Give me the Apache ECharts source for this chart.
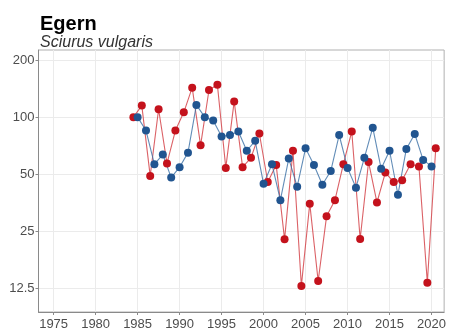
<!DOCTYPE html>
<html>
<head>
<meta charset="utf-8">
<script src="https://cdn.jsdelivr.net/npm/echarts@6/dist/echarts.min.js"></script>
<style>html,body{margin:0;padding:0;background:#fff}#c{width:449px;height:332px}</style>
</head>
<body>
<div id="c"></div>
<script>
// Blue series: years and index values
var blueYears = [1985,1986,1987,1988,1989,1990,1991,1992,1993,1994,1995,1996,1997,1998,1999,2000,2001,2002,2003,2004,2005,2006,2007,2008,2009,2010,2011,2012,2013,2014,2015,2016,2017,2018,2019,2020];
var blueValues = [100,85,56.5,63.5,48,54.5,65,116,100,96,79,80.5,84,66.5,75,44.5,56.5,36.5,60.5,43,68.5,56,44,52,80.5,54,42.5,61,88,53.5,66.5,39,68,81.5,59.5,55];
// Red series: plotted at half-year positions
var redYears = [1984.5,1985.5,1986.5,1987.5,1988.5,1989.5,1990.5,1991.5,1992.5,1993.5,1994.5,1995.5,1996.5,1997.5,1998.5,1999.5,2000.5,2001.5,2002.5,2003.5,2004.5,2005.5,2006.5,2007.5,2008.5,2009.5,2010.5,2011.5,2012.5,2013.5,2014.5,2015.5,2016.5,2017.5,2018.5,2019.5,2020.5];
var redValues = [100,115,49,110,57,85,106,143,71,139,148,54,121,54.5,61,82,45.5,56,22.7,66.5,12.9,35,13.7,30,36.5,56.5,84,22.8,58,35.5,51,45.5,46.5,56.5,55,13.4,68.5];
var yTicks = [12.5, 25, 50, 100, 200];
var xTicks = [1975,1980,1985,1990,1995,2000,2005,2010,2015,2020];

function pairs(xs, ys){ return xs.map(function(x,i){ return [x, ys[i]]; }); }

var FONT = 'Liberation Sans';
var chart = echarts.init(document.getElementById('c'), null, {renderer:'canvas'});
chart.setOption({
  animation: false,
  backgroundColor: '#ffffff',
  title: {
    text: 'Egern',
    subtext: 'Sciurus vulgaris',
    left: 35, top: 9,
    itemGap: 1,
    textStyle: {fontFamily: FONT, fontSize: 20, fontWeight: 'bold', color: '#000', lineHeight: 20},
    subtextStyle: {fontFamily: FONT, fontSize: 16, fontStyle: 'italic', color: '#333', lineHeight: 16}
  },
  grid: {left: 38.5, right: 4, top: 50, bottom: 20, show: true, borderColor: '#b0b0b0', borderWidth: 1, backgroundColor: 'transparent'},
  xAxis: {
    type: 'value', min: 1973.2, max: 2021.5, splitNumber: 10,
    axisLine: {show: true, lineStyle: {color: '#8a8a8a', width: 1}},
    axisTick: {show: true, length: 3, lineStyle: {color: '#8a8a8a'}, customValues: xTicks},
    axisLabel: {fontFamily: FONT, fontSize: 13, color: '#4d4d4d', margin: 6, showMinLabel: false, showMaxLabel: false,
      formatter: function(v){ return String(Math.round(v)); }},
    splitLine: {show: true, lineStyle: {color: '#ebebeb', width: 1}}
  },
  yAxis: {
    type: 'log', logBase: 2, min: 9.4, max: 225.8,
    axisLine: {show: true, lineStyle: {color: '#8a8a8a', width: 1}},
    axisTick: {show: true, length: 3, lineStyle: {color: '#8a8a8a'}, customValues: yTicks},
    axisLabel: {fontFamily: FONT, fontSize: 13, color: '#4d4d4d', margin: 4, customValues: yTicks,
      formatter: function(v){ return String(Math.round(v*10)/10); }},
    splitLine: {show: true, lineStyle: {color: '#ebebeb', width: 1}}
  },
  series: [
    {type: 'line', data: pairs(redYears, redValues), symbol: 'circle', symbolSize: 8,
     itemStyle: {color: '#c4121c'}, lineStyle: {color: '#d23a40', width: 1.1, opacity: 0.8}},
    {type: 'line', data: pairs(blueYears, blueValues), symbol: 'circle', symbolSize: 8,
     itemStyle: {color: '#215590'}, lineStyle: {color: '#3a6fa5', width: 1.1, opacity: 0.8}}
  ]
});
</script>
</body>
</html>
